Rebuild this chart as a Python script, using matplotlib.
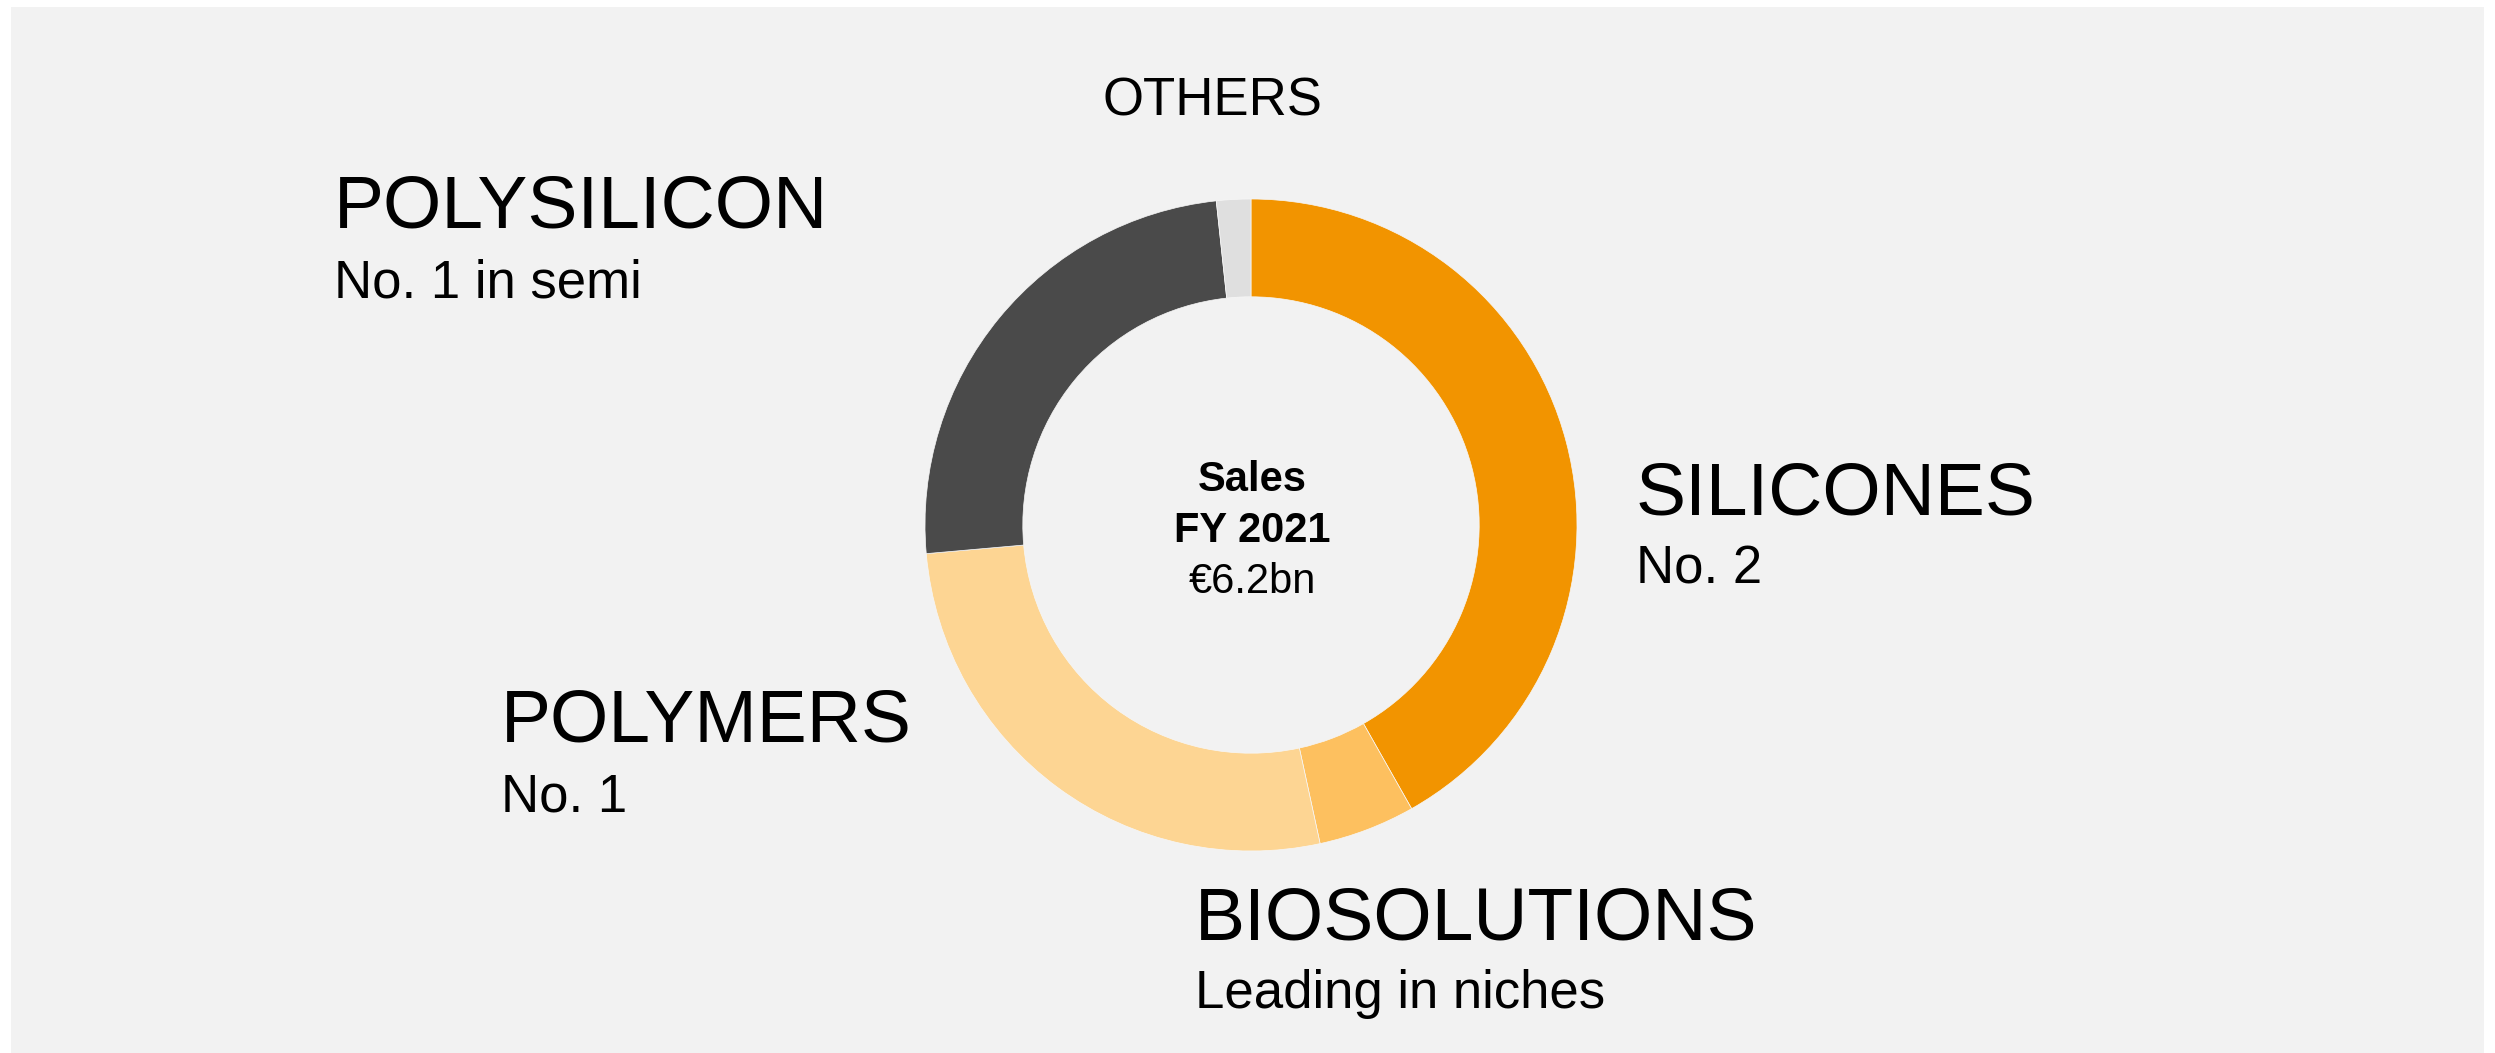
import matplotlib
matplotlib.use('Agg')
import matplotlib.pyplot as plt
from matplotlib.patches import Rectangle

plt.rcParams['font.family'] = ['Liberation Sans', 'DejaVu Sans']

segments = ['SILICONES', 'BIOSOLUTIONS', 'POLYMERS', 'POLYSILICON', 'OTHERS']
shares = [41.8, 4.8, 27.0, 24.7, 1.7]
colors = ['#F29400', '#FDC05F', '#FDD593', '#4A4A4A', '#DFDFDF']

subtitles = ['No. 2', 'Leading in niches', 'No. 1', 'No. 1 in semi', '']
center_lines = ['Sales', 'FY 2021', '€6.2bn']

W, H = 2495, 1053
fig = plt.figure(figsize=(W / 100, H / 100), dpi=100)
fig.patch.set_facecolor('white')

# grey panel, kept behind the ring
fig.patches.append(Rectangle((11 / W, 0), (2484 - 11) / W, (H - 7) / H,
                             transform=fig.transFigure, facecolor='#F2F2F2',
                             edgecolor='none', zorder=-10))

def px(x, y):
    return x / W, 1 - y / H

# ring: centre (1251, 525) px, outer radius 326 px
cx, cy, r = 1251, 525, 326
ax = fig.add_axes([(cx - r) / W, (H - cy - r) / H, 2 * r / W, 2 * r / H])
ax.set_zorder(5)
ax.pie(shares, colors=colors, startangle=90, counterclock=False, radius=1,
       wedgeprops=dict(width=0.30, edgecolor='#F7F7F7', linewidth=0.5))
ax.set_xlim(-1, 1)
ax.set_ylim(-1, 1)
ax.patch.set_alpha(0)

# centre text
fig.text(*px(1252, 491), center_lines[0], ha='center', va='baseline',
         fontsize=30, fontweight='bold', zorder=10)
fig.text(*px(1252, 542), center_lines[1], ha='center', va='baseline',
         fontsize=30, fontweight='bold', zorder=10)
fig.text(*px(1252, 593), center_lines[2], ha='center', va='baseline',
         fontsize=30, zorder=10)

# segment labels: (left x, title baseline, subtitle baseline)
label_pos = {
    'SILICONES': (1636, 514, 584),
    'BIOSOLUTIONS': (1195, 939, 1008),
    'POLYMERS': (501, 742, 812),
    'POLYSILICON': (334, 227, 297),
}
for name, sub in zip(segments, subtitles):
    if name == 'OTHERS':
        fig.text(*px(1212, 116), name, ha='center', va='baseline', fontsize=38)
        continue
    x, y1, y2 = label_pos[name]
    fig.text(*px(x, y1), name, ha='left', va='baseline', fontsize=54)
    fig.text(*px(x, y2), sub, ha='left', va='baseline', fontsize=38)

fig.savefig('out.png', dpi=100)
